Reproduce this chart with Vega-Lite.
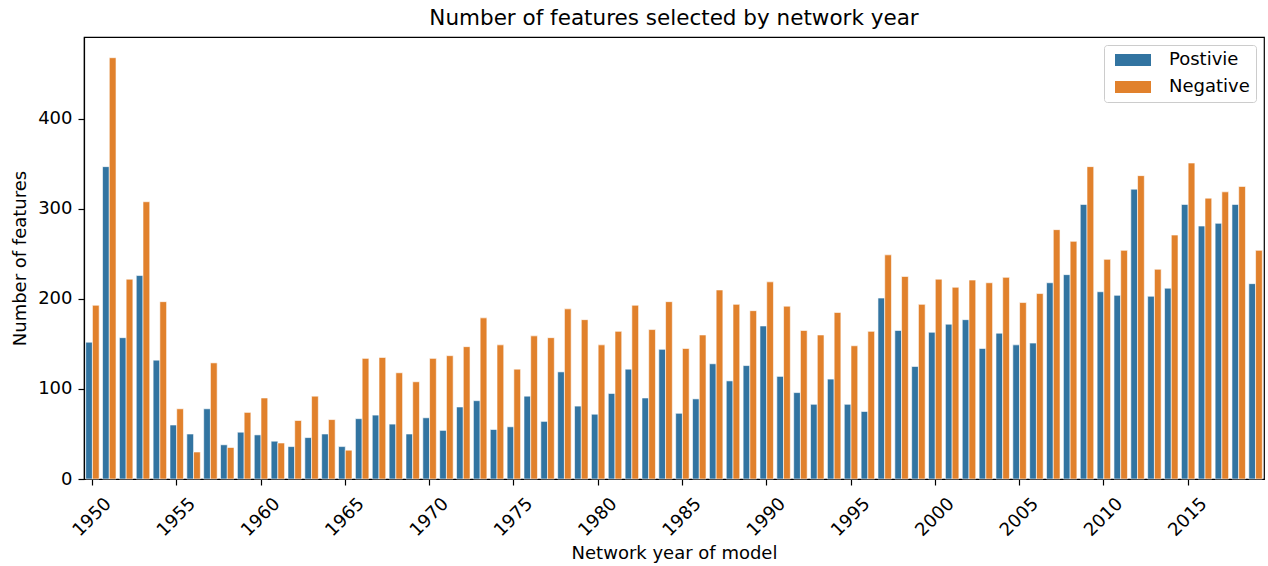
{
  "$schema": "https://vega.github.io/schema/vega-lite/v6.json",
  "autosize": {"type": "none"},
  "width": 1180,
  "height": 442,
  "padding": {"left": 84, "top": 37, "right": 4, "bottom": 87},
  "background": "white",
  "title": {"text": "Number of features selected by network year", "fontSize": 21.5, "fontWeight": "normal", "font": "DejaVu Sans", "color": "black", "offset": 8, "anchor": "middle"},
  "config": {
    "font": "DejaVu Sans",
    "view": {"stroke": "black", "strokeWidth": 1.2},
    "axis": {"grid": false, "domainColor": "black", "domainWidth": 1.2, "tickColor": "black", "tickWidth": 1.2, "labelColor": "black", "titleColor": "black", "labelFont": "DejaVu Sans", "titleFont": "DejaVu Sans", "labelFontSize": 18, "titleFontSize": 18, "titleFontWeight": "normal", "tickSize": 6}
  },
  "data": {"values": [
    {"year": 1950, "type": "Postivie", "count": 152}, {"year": 1950, "type": "Negative", "count": 193},
    {"year": 1951, "type": "Postivie", "count": 347}, {"year": 1951, "type": "Negative", "count": 468},
    {"year": 1952, "type": "Postivie", "count": 157}, {"year": 1952, "type": "Negative", "count": 222},
    {"year": 1953, "type": "Postivie", "count": 226}, {"year": 1953, "type": "Negative", "count": 308},
    {"year": 1954, "type": "Postivie", "count": 132}, {"year": 1954, "type": "Negative", "count": 197},
    {"year": 1955, "type": "Postivie", "count": 60}, {"year": 1955, "type": "Negative", "count": 78},
    {"year": 1956, "type": "Postivie", "count": 50}, {"year": 1956, "type": "Negative", "count": 30},
    {"year": 1957, "type": "Postivie", "count": 78}, {"year": 1957, "type": "Negative", "count": 129},
    {"year": 1958, "type": "Postivie", "count": 38}, {"year": 1958, "type": "Negative", "count": 35},
    {"year": 1959, "type": "Postivie", "count": 52}, {"year": 1959, "type": "Negative", "count": 74},
    {"year": 1960, "type": "Postivie", "count": 49}, {"year": 1960, "type": "Negative", "count": 90},
    {"year": 1961, "type": "Postivie", "count": 42}, {"year": 1961, "type": "Negative", "count": 40},
    {"year": 1962, "type": "Postivie", "count": 36}, {"year": 1962, "type": "Negative", "count": 65},
    {"year": 1963, "type": "Postivie", "count": 46}, {"year": 1963, "type": "Negative", "count": 92},
    {"year": 1964, "type": "Postivie", "count": 50}, {"year": 1964, "type": "Negative", "count": 66},
    {"year": 1965, "type": "Postivie", "count": 36}, {"year": 1965, "type": "Negative", "count": 32},
    {"year": 1966, "type": "Postivie", "count": 67}, {"year": 1966, "type": "Negative", "count": 134},
    {"year": 1967, "type": "Postivie", "count": 71}, {"year": 1967, "type": "Negative", "count": 135},
    {"year": 1968, "type": "Postivie", "count": 61}, {"year": 1968, "type": "Negative", "count": 118},
    {"year": 1969, "type": "Postivie", "count": 50}, {"year": 1969, "type": "Negative", "count": 108},
    {"year": 1970, "type": "Postivie", "count": 68}, {"year": 1970, "type": "Negative", "count": 134},
    {"year": 1971, "type": "Postivie", "count": 54}, {"year": 1971, "type": "Negative", "count": 137},
    {"year": 1972, "type": "Postivie", "count": 80}, {"year": 1972, "type": "Negative", "count": 147},
    {"year": 1973, "type": "Postivie", "count": 87}, {"year": 1973, "type": "Negative", "count": 179},
    {"year": 1974, "type": "Postivie", "count": 55}, {"year": 1974, "type": "Negative", "count": 149},
    {"year": 1975, "type": "Postivie", "count": 58}, {"year": 1975, "type": "Negative", "count": 122},
    {"year": 1976, "type": "Postivie", "count": 92}, {"year": 1976, "type": "Negative", "count": 159},
    {"year": 1977, "type": "Postivie", "count": 64}, {"year": 1977, "type": "Negative", "count": 157},
    {"year": 1978, "type": "Postivie", "count": 119}, {"year": 1978, "type": "Negative", "count": 189},
    {"year": 1979, "type": "Postivie", "count": 81}, {"year": 1979, "type": "Negative", "count": 177},
    {"year": 1980, "type": "Postivie", "count": 72}, {"year": 1980, "type": "Negative", "count": 149},
    {"year": 1981, "type": "Postivie", "count": 95}, {"year": 1981, "type": "Negative", "count": 164},
    {"year": 1982, "type": "Postivie", "count": 122}, {"year": 1982, "type": "Negative", "count": 193},
    {"year": 1983, "type": "Postivie", "count": 90}, {"year": 1983, "type": "Negative", "count": 166},
    {"year": 1984, "type": "Postivie", "count": 144}, {"year": 1984, "type": "Negative", "count": 197},
    {"year": 1985, "type": "Postivie", "count": 73}, {"year": 1985, "type": "Negative", "count": 145},
    {"year": 1986, "type": "Postivie", "count": 89}, {"year": 1986, "type": "Negative", "count": 160},
    {"year": 1987, "type": "Postivie", "count": 128}, {"year": 1987, "type": "Negative", "count": 210},
    {"year": 1988, "type": "Postivie", "count": 109}, {"year": 1988, "type": "Negative", "count": 194},
    {"year": 1989, "type": "Postivie", "count": 126}, {"year": 1989, "type": "Negative", "count": 187},
    {"year": 1990, "type": "Postivie", "count": 170}, {"year": 1990, "type": "Negative", "count": 219},
    {"year": 1991, "type": "Postivie", "count": 114}, {"year": 1991, "type": "Negative", "count": 192},
    {"year": 1992, "type": "Postivie", "count": 96}, {"year": 1992, "type": "Negative", "count": 165},
    {"year": 1993, "type": "Postivie", "count": 83}, {"year": 1993, "type": "Negative", "count": 160},
    {"year": 1994, "type": "Postivie", "count": 111}, {"year": 1994, "type": "Negative", "count": 185},
    {"year": 1995, "type": "Postivie", "count": 83}, {"year": 1995, "type": "Negative", "count": 148},
    {"year": 1996, "type": "Postivie", "count": 75}, {"year": 1996, "type": "Negative", "count": 164},
    {"year": 1997, "type": "Postivie", "count": 201}, {"year": 1997, "type": "Negative", "count": 249},
    {"year": 1998, "type": "Postivie", "count": 165}, {"year": 1998, "type": "Negative", "count": 225},
    {"year": 1999, "type": "Postivie", "count": 125}, {"year": 1999, "type": "Negative", "count": 194},
    {"year": 2000, "type": "Postivie", "count": 163}, {"year": 2000, "type": "Negative", "count": 222},
    {"year": 2001, "type": "Postivie", "count": 172}, {"year": 2001, "type": "Negative", "count": 213},
    {"year": 2002, "type": "Postivie", "count": 177}, {"year": 2002, "type": "Negative", "count": 221},
    {"year": 2003, "type": "Postivie", "count": 145}, {"year": 2003, "type": "Negative", "count": 218},
    {"year": 2004, "type": "Postivie", "count": 162}, {"year": 2004, "type": "Negative", "count": 224},
    {"year": 2005, "type": "Postivie", "count": 149}, {"year": 2005, "type": "Negative", "count": 196},
    {"year": 2006, "type": "Postivie", "count": 151}, {"year": 2006, "type": "Negative", "count": 206},
    {"year": 2007, "type": "Postivie", "count": 218}, {"year": 2007, "type": "Negative", "count": 277},
    {"year": 2008, "type": "Postivie", "count": 227}, {"year": 2008, "type": "Negative", "count": 264},
    {"year": 2009, "type": "Postivie", "count": 305}, {"year": 2009, "type": "Negative", "count": 347},
    {"year": 2010, "type": "Postivie", "count": 208}, {"year": 2010, "type": "Negative", "count": 244},
    {"year": 2011, "type": "Postivie", "count": 204}, {"year": 2011, "type": "Negative", "count": 254},
    {"year": 2012, "type": "Postivie", "count": 322}, {"year": 2012, "type": "Negative", "count": 337},
    {"year": 2013, "type": "Postivie", "count": 203}, {"year": 2013, "type": "Negative", "count": 233},
    {"year": 2014, "type": "Postivie", "count": 212}, {"year": 2014, "type": "Negative", "count": 271},
    {"year": 2015, "type": "Postivie", "count": 305}, {"year": 2015, "type": "Negative", "count": 351},
    {"year": 2016, "type": "Postivie", "count": 281}, {"year": 2016, "type": "Negative", "count": 312},
    {"year": 2017, "type": "Postivie", "count": 284}, {"year": 2017, "type": "Negative", "count": 319},
    {"year": 2018, "type": "Postivie", "count": 305}, {"year": 2018, "type": "Negative", "count": 325},
    {"year": 2019, "type": "Postivie", "count": 217}, {"year": 2019, "type": "Negative", "count": 254}
  ]},
  "mark": {"type": "bar", "stroke": "white", "strokeWidth": 0.6},
  "encoding": {
    "x": {
      "field": "year", "type": "ordinal",
      "scale": {"paddingInner": 0.2, "paddingOuter": 0.1},
      "axis": {"title": "Network year of model", "values": [1950, 1955, 1960, 1965, 1970, 1975, 1980, 1985, 1990, 1995, 2000, 2005, 2010, 2015], "labelAngle": -45, "labelAlign": "center", "labelBaseline": "middle", "labelPadding": 32, "titlePadding": 5}
    },
    "xOffset": {"field": "type", "type": "nominal", "sort": ["Postivie", "Negative"], "scale": {"paddingInner": 0, "paddingOuter": 0}},
    "y": {
      "field": "count", "type": "quantitative",
      "scale": {"domain": [0, 491], "nice": false},
      "axis": {"title": "Number of features", "values": [0, 100, 200, 300, 400], "titlePadding": 8, "labelPadding": 6}
    },
    "color": {
      "field": "type", "type": "nominal", "sort": ["Postivie", "Negative"],
      "scale": {"domain": ["Postivie", "Negative"], "range": ["#3274a1", "#e1812c"]},
      "legend": {"title": null, "orient": "top-right", "offset": 8, "labelFontSize": 18, "labelFont": "DejaVu Sans", "labelColor": "black", "symbolType": "M-3,-1H3V1H-3Z", "symbolSize": 144, "symbolOffset": 14, "symbolStrokeWidth": 0, "symbolOpacity": 1, "labelOffset": 27, "rowPadding": 9, "strokeColor": "#cccccc", "fillColor": "white", "cornerRadius": 3, "padding": 6}
    }
  }
}
